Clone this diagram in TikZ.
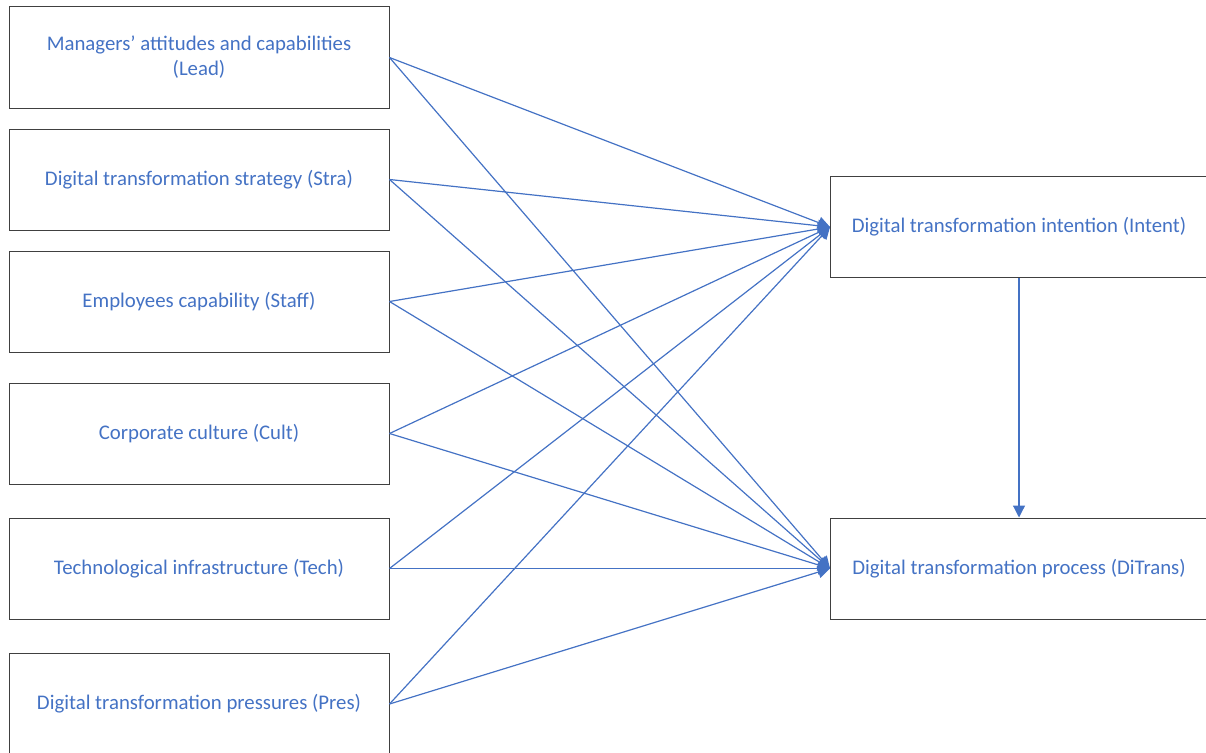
\documentclass[tikz,border=0pt]{standalone}
\usepackage{fontspec}
\setmainfont{Carlito}
\usetikzlibrary{
	arrows.meta,
	positioning
}
\definecolor{txtblue}{HTML}{4472C4}
\definecolor{boxgray}{HTML}{404040}

\begin{document}
\begin{tikzpicture}
[x=1pt, y=-1pt,
 box/.style={draw=boxgray, line width=1pt, minimum width=380pt, minimum height=101pt,
   text=txtblue, align=center, inner sep=0pt, font=\fontsize{20.8}{25}\selectfont},
 rbox/.style={box, minimum width=377pt},
 link/.style={draw=txtblue, line width=1.2pt, -{Triangle[length=12pt,width=12pt]}}]
\useasboundingbox (0,0) rectangle (1206,752);
\clip (0,0) rectangle (1206,752);
\def\lx{199}
\def\rx{1019}
% causes
\node[box] (lead) at (\lx,57.5) {Managers’ attitudes and capabilities\\(Lead)};
\node[box] (stra) at (\lx,179.5) {Digital transformation strategy (Stra)};
\node[box] (staff) at (\lx,301.5) {Employees capability (Staff)};
\node[box] (cult) at (\lx,433.5) {Corporate culture (Cult)};
\node[box] (tech) at (\lx,568.5) {Technological infrastructure (Tech)};
\node[box] (pres) at (\lx,704) {Digital transformation pressures (Pres)};
% outcomes
\node[rbox] (intent) at (\rx,227) {Digital transformation intention (Intent)};
\node[rbox] (ditrans) at (\rx,568.5) {Digital transformation process (DiTrans)};
% paths
\foreach \s in {lead,stra,staff,cult,tech,pres}{
	\draw[link] (\s.east) -- (intent.west);
	\draw[link] (\s.east) -- (ditrans.west);
}
\draw[link] (intent.south) -- (ditrans.north);
\end{tikzpicture}
\end{document}
